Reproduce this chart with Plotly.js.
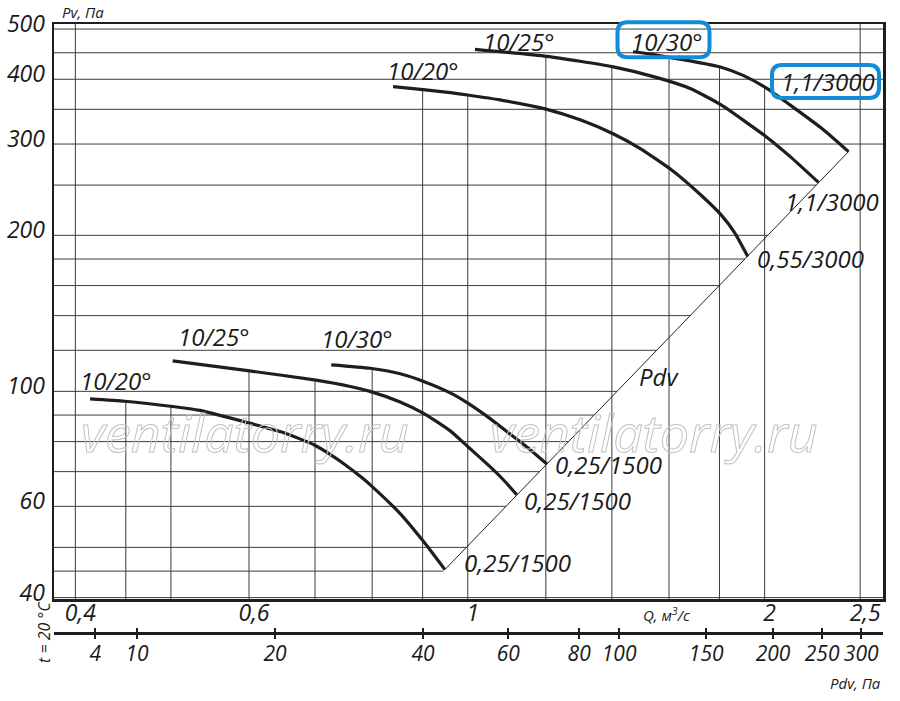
<!DOCTYPE html>
<html><head><meta charset="utf-8">
<script src="https://cdn.plot.ly/plotly-3.0.1.min.js"></script>
<style>html,body{margin:0;padding:0;background:#fff;}#chart{width:900px;height:701px;}</style>
</head><body><div id="chart"></div>
<script>
// ---- data (Q in m3/s, Pv in Pa) ----
const qLow20 = [0.414, 0.449, 0.502, 0.535, 0.600, 0.650, 0.699, 0.725, 0.748, 0.783, 0.798, 0.854, 0.902, 0.948];
const pLow20 = [96.7, 95.7, 93.5, 91.9, 86.9, 83.3, 78.8, 75.6, 72.6, 67.9, 65.8, 58.1, 51.3, 45.3];
const qLow25 = [0.502, 0.601, 0.699, 0.760, 0.796, 0.854, 0.902, 0.960, 1.001, 1.054, 1.086, 1.121];
const pLow25 = [114.5, 109.5, 105.2, 102.2, 100.0, 95.4, 90.7, 83.9, 78.1, 71.5, 67.6, 63.2];
const qLow30 = [0.727, 0.796, 0.854, 0.902, 0.960, 1.001, 1.051, 1.095, 1.148, 1.203];
const pLow30 = [112.5, 110.8, 108.1, 104.5, 99.3, 94.8, 88.9, 83.7, 78.1, 72.4];
const qUp20 = [0.840, 0.901, 0.960, 1.000, 1.078, 1.203, 1.300, 1.404, 1.496, 1.611, 1.720, 1.807, 1.866, 1.923];
const pUp20 = [387, 382, 377, 373, 365, 350, 334, 314, 294, 267, 240, 219, 202, 182];
const qUp25 = [1.017, 1.203, 1.401, 1.556, 1.681, 1.807, 2.007, 2.122, 2.268];
const pUp25 = [457, 443, 423, 403, 384, 357, 310, 284, 253];
const qUp30 = [1.471, 1.549, 1.611, 1.681, 1.807, 1.902, 2.007, 2.122, 2.293, 2.433];
const pUp30 = [452, 446, 440, 434, 422, 407, 385, 357, 320, 290];

const qTickVals = [0.4, 0.6, 1, 2, 2.5];
const qTickText = ['0,4', '0,6', '1', '2', '2,5'];
const pTickVals = [40, 60, 100, 200, 300, 400, 500];
const pTickText = ['40', '60', '100', '200', '300', '400', '500'];
const pdvTickLabels = ['4', '10', '20', '40', '60', '80', '100', '150', '200', '250', '300'];
const pdvTickQ = [0.419, 0.462, 0.6375, 0.901, 1.099, 1.297, 1.424, 1.745, 2.040, 2.2875, 2.506];
const gridQ = [0.4, 0.45, 0.5, 0.6, 0.7, 0.8, 0.9, 1.0, 1.2, 1.4, 1.6, 1.8, 2.0, 2.5];
const gridP = [40, 45, 50, 60, 70, 80, 90, 100, 120, 140, 160, 180, 200, 250, 300, 350, 400, 450, 500];

// ---- layout geometry ----
const W = 900, H = 701, ML = 54, MR = 17, MT = 24, MB = 41;
const PW = W - ML - MR, PH = H - MT - MB;
const px = x => (x - ML) / PW;
const py = y => (H - MB - y) / PH;
const xRange = [-0.4196, 0.4211];
const yRange = [1.5994, 2.7087];
const xMinV = Math.pow(10, xRange[0]), xMaxV = Math.pow(10, xRange[1]);
const yMinV = Math.pow(10, yRange[0]), yMaxV = Math.pow(10, yRange[1]);

const curves = [[qLow20, pLow20], [qLow25, pLow25], [qLow30, pLow30], [qUp20, pUp20], [qUp25, pUp25], [qUp30, pUp30]];
const L = Math.log10;
function interpLog(qs, ps, q) {
  if (q < qs[0] || q > qs[qs.length - 1]) return null;
  for (let i = 0; i < qs.length - 1; i++) {
    if (q <= qs[i + 1]) {
      const t = (L(q) - L(qs[i])) / (L(qs[i + 1]) - L(qs[i]));
      return Math.pow(10, L(ps[i]) + t * (L(ps[i + 1]) - L(ps[i])));
    }
  }
  return null;
}
// Pdv line through the curve end points
const ends = curves.map(c => [c[0][c[0].length - 1], c[1][c[1].length - 1]]);
ends.sort((a, b) => a[1] - b[1]);
const eLo = ends[0], eHi = ends[ends.length - 1];
const slope = (L(eHi[1]) - L(eLo[1])) / (L(eHi[0]) - L(eLo[0]));
const pdvQ = p => Math.pow(10, L(eLo[0]) + (L(p) - L(eLo[1])) / slope);

// grid lines (vertical up to the highest curve, horizontal up to the Pdv line)
const vx = [], vy = [];
gridQ.forEach(q => {
  let top = null;
  curves.forEach(c => { const v = interpLog(c[0], c[1], q); if (v !== null && (top === null || v > top)) top = v; });
  if (top === null) top = yMaxV;
  vx.push(q, q, null); vy.push(yMinV, top, null);
});
const hx = [], hy = [];
gridP.forEach(p => {
  const right = (p >= eLo[1] * 0.97 && p <= eHi[1]) ? pdvQ(p) : xMaxV;
  hx.push(xMinV, right, null); hy.push(p, p, null);
});

const gridStyle = {color: '#3c3c3c', width: 1};
const curveStyle = {color: '#1e1e1e', width: 3.2, shape: 'spline', smoothing: 0.5};
const traces = [
  {x: vx, y: vy, mode: 'lines', line: gridStyle, hoverinfo: 'skip', showlegend: false},
  {x: hx, y: hy, mode: 'lines', line: gridStyle, hoverinfo: 'skip', showlegend: false},
  {x: [eLo[0], eHi[0]], y: [eLo[1], eHi[1]], mode: 'lines', line: {color: '#222', width: 1}, hoverinfo: 'skip', showlegend: false},
];
curves.forEach(c => traces.push({x: c[0], y: c[1], mode: 'lines', line: curveStyle, hoverinfo: 'skip', showlegend: false}));

const FF = 'Open Sans';
const tf = (s, c) => ({family: FF, size: s, style: 'italic', color: c || '#1a1a1a'});
const ann = (x, y, text, size, extra) => Object.assign({xref: 'paper', yref: 'paper', x: px(x), y: py(y),
  xanchor: 'center', yanchor: 'middle', text: text, showarrow: false, font: tf(size)}, extra || {});

const WM = 'ventilatorry.ru';
const wmFont = {family: FF, size: 52, style: 'italic', color: '#d4d4d4'};
const CL = 24;
const annotations = [
  Object.assign(ann(245, 431, WM, 52), {font: wmFont}),
  Object.assign(ann(654, 431, WM, 52), {font: wmFont}),
  ann(60, 12.5, 'Pv, Па', 15, {xanchor: 'left'}),
  ann(666, 614, 'Q, м<sup>3</sup>/с', 15),
  ann(855, 683, 'Pdv, Па', 15),
  ann(44, 632, 't = 20 °C', 16, {textangle: -90}),
  ann(116, 380, '10/20°', CL),
  ann(214, 336, '10/25°', CL),
  ann(357, 338, '10/30°', CL),
  ann(608, 464, '0,25/1500', CL),
  ann(577, 500, '0,25/1500', CL),
  ann(517, 562, '0,25/1500', CL),
  ann(423, 70, '10/20°', CL),
  ann(519, 41, '10/25°', CL),
  ann(667, 41, '10/30°', CL),
  ann(828, 82, '1,1/3000', CL),
  ann(832, 201, '1,1/3000', CL),
  ann(810, 258, '0,55/3000', CL),
  ann(659, 376, 'Pdv', CL),
];

function roundRect(cx, cy, w, h, r) {
  const x0 = cx - w / 2, x1 = cx + w / 2, y0 = cy - h / 2, y1 = cy + h / 2;
  const P = (x, y) => px(x).toFixed(5) + ',' + py(y).toFixed(5);
  return 'M' + P(x0 + r, y0) + ' L' + P(x1 - r, y0) + ' Q' + P(x1, y0) + ' ' + P(x1, y0 + r) +
    ' L' + P(x1, y1 - r) + ' Q' + P(x1, y1) + ' ' + P(x1 - r, y1) +
    ' L' + P(x0 + r, y1) + ' Q' + P(x0, y1) + ' ' + P(x0, y1 - r) +
    ' L' + P(x0, y0 + r) + ' Q' + P(x0, y0) + ' ' + P(x0 + r, y0) + ' Z';
}
const boxLine = {color: '#138bd6', width: 4};
const shapes = [
  {type: 'path', xref: 'paper', yref: 'paper', path: roundRect(663.5, 39.7, 92, 35, 10), line: boxLine},
  {type: 'path', xref: 'paper', yref: 'paper', path: roundRect(825.5, 81.5, 107, 33, 10), line: boxLine},
];

const axisLine = {showline: true, linecolor: '#1e1e1e', linewidth: 2.5};
const layout = {
  width: W, height: H,
  margin: {l: ML, r: MR, t: MT, b: MB, pad: 0},
  paper_bgcolor: '#fff', plot_bgcolor: '#fff',
  showlegend: false,
  xaxis: Object.assign({type: 'log', range: xRange, domain: [0, 1], anchor: 'y', mirror: true,
    showgrid: false, zeroline: false, ticks: '', tickvals: qTickVals, ticktext: qTickText,
    tickfont: tf(23), ticklabelshift: 5, ticklabelstandoff: -8, fixedrange: true}, axisLine),
  yaxis: Object.assign({type: 'log', range: yRange, domain: [py(599), 1], anchor: 'x', mirror: true,
    showgrid: false, zeroline: false, ticks: '', tickvals: pTickVals, ticktext: pTickText,
    tickfont: tf(23), ticklabelstandoff: 2, ticklabelshift: -5, fixedrange: true}, axisLine),
  xaxis2: Object.assign({type: 'log', range: xRange, overlaying: 'x', anchor: 'free', position: py(633),
    showgrid: false, zeroline: false, ticks: 'outside', ticklen: 4, tickwidth: 1.5, tickcolor: '#1e1e1e',
    tickvals: pdvTickQ, ticktext: pdvTickLabels, tickfont: tf(21), ticklabelstandoff: -3, fixedrange: true}, axisLine),
  xaxis3: {type: 'log', range: xRange, overlaying: 'x', anchor: 'free', position: py(633),
    showgrid: false, zeroline: false, showline: false, ticks: 'inside', ticklen: 5, tickwidth: 1.5,
    tickcolor: '#1e1e1e', tickvals: pdvTickQ, ticktext: pdvTickLabels, showticklabels: false, fixedrange: true},
  annotations: annotations,
  shapes: shapes,
};
// invisible traces so the extra axes are drawn
traces.push({x: [1], y: [100], xaxis: 'x2', mode: 'markers', marker: {opacity: 0}, hoverinfo: 'skip', showlegend: false});
traces.push({x: [1], y: [100], xaxis: 'x3', mode: 'markers', marker: {opacity: 0}, hoverinfo: 'skip', showlegend: false});

Plotly.newPlot('chart', traces, layout, {staticPlot: true, displayModeBar: false}).then(gd => {
  // watermark drawn as hollow (outlined) letters, as in the original
  gd.querySelectorAll('text.annotation-text').forEach(t => {
    if (t.textContent === WM) {
      t.style.fill = 'none';
      t.style.stroke = '#c2c2c2';
      t.style.strokeWidth = '1px';
    }
  });
});
</script></body></html>
